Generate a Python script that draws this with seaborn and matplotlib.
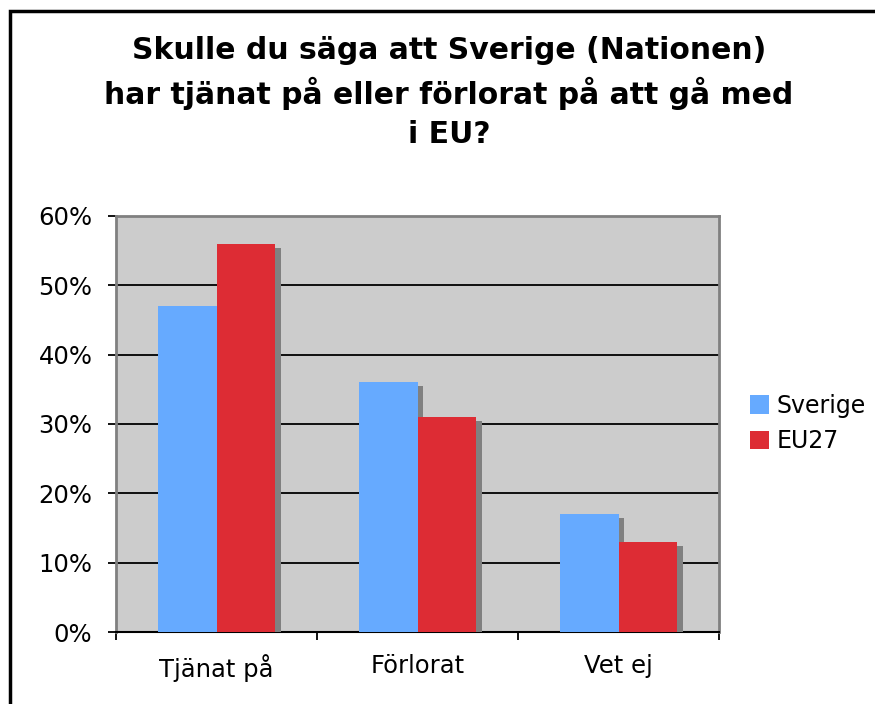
import matplotlib
matplotlib.use("Agg")
import matplotlib.pyplot as plt
import matplotlib.patheffects as pe
from matplotlib.patches import Rectangle
from matplotlib.ticker import FixedLocator
import seaborn as sns
import pandas as pd

categories = ["Tjänat på", "Förlorat", "Vet ej"]
sverige = [47, 36, 17]
eu27 = [56, 31, 13]
series = ["Sverige", "EU27"]
yticks = [0, 10, 20, 30, 40, 50, 60]
title = "Skulle du säga att Sverige (Nationen)\nhar tjänat på eller förlorat på att gå med\ni EU?"

df = pd.DataFrame({
    "Kategori": categories * 2,
    "Serie": [series[0]] * 3 + [series[1]] * 3,
    "Andel": sverige + eu27,
})

sns.set_style("white")
plt.rcParams["font.family"] = ["DejaVu Sans"]
plt.rcParams["text.color"] = "black"

fig = plt.figure(figsize=(8.75, 7.04), dpi=100)
ax = fig.add_axes([116/875, 1-632/704, (719-116)/875, (632-216)/704])
ax.set_facecolor("#CCCCCC")

sns.barplot(data=df, x="Kategori", y="Andel", hue="Serie",
            palette=["#66AAFF", "#DD2C34"], saturation=1, width=0.58,
            linewidth=0, edgecolor="none", ax=ax, zorder=3)

handles, labels = ax.get_legend_handles_labels()
ax.legend(handles, labels, loc="center left", bbox_to_anchor=(738/875, 1-423.5/704),
          bbox_transform=fig.transFigure, frameon=False, fontsize=17, borderpad=0,
          handlelength=0.82, handleheight=0.82, handletextpad=0.3, labelspacing=0.5)

for p in ax.patches:
    p.set_path_effects([pe.SimplePatchShadow(offset=(4.3, -2.9), shadow_rgbFace="#808080", alpha=1.0),
                        pe.Normal()])

ax.set_xlim(-0.5, 2.5)
ax.set_ylim(0, 60)
ax.set_yticks(yticks)
ax.set_yticklabels([f"{v}%" for v in yticks])
ax.yaxis.grid(True, color="black", linewidth=1.3, zorder=1)
ax.set_axisbelow(True)
ax.xaxis.set_minor_locator(FixedLocator([-0.5, 0.5, 1.5, 2.5]))
ax.tick_params(axis="x", which="major", length=0, pad=16, labelsize=17.5, colors="black")
ax.tick_params(axis="x", which="minor", length=6, width=1.3, direction="out", bottom=True, color="black")
ax.tick_params(axis="y", length=6, width=1.3, direction="out", left=True, pad=11, labelsize=17.5, colors="black")
ax.set_xlabel("")
ax.set_ylabel("")

for s in ["left", "top", "right"]:
    ax.spines[s].set_color("#808080")
    ax.spines[s].set_linewidth(2)
ax.spines["bottom"].set_color("black")
ax.spines["bottom"].set_linewidth(1.5)

fig.text(449/875, 1-36/704, title, ha="center", va="top", fontsize=21.5,
         fontweight="bold", linespacing=1.43, color="black")

fig.add_artist(Rectangle((10/875, -0.1), 1.2, 1 - 11/704 + 0.1, transform=fig.transFigure,
                         fill=False, edgecolor="black", linewidth=2.5))

fig.savefig("out.png", dpi=100)
